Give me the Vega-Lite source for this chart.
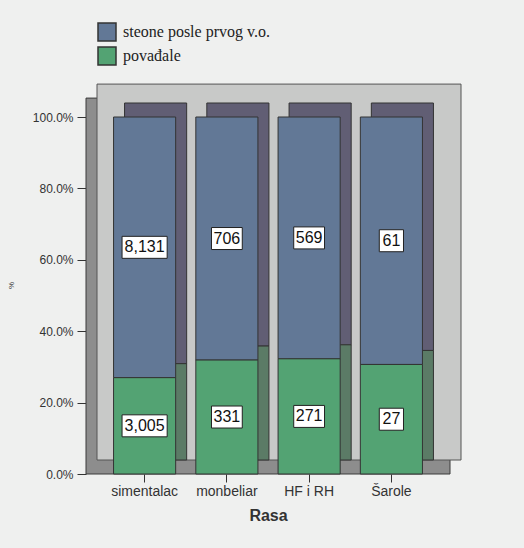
{
  "$schema": "https://vega.github.io/schema/vega-lite/v6.json",
  "autosize": "none",
  "width": 364,
  "height": 357,
  "padding": {"left": 86, "top": 117, "right": 74, "bottom": 74},
  "background": "#eff0ef",
  "config": {"view": {"stroke": null}},
  "data": {"values": [
    {"Rasa": "simentalac", "status": "steone posle prvog v.o.", "count": 8131},
    {"Rasa": "simentalac", "status": "povađale", "count": 3005},
    {"Rasa": "monbeliar", "status": "steone posle prvog v.o.", "count": 706},
    {"Rasa": "monbeliar", "status": "povađale", "count": 331},
    {"Rasa": "HF i RH", "status": "steone posle prvog v.o.", "count": 569},
    {"Rasa": "HF i RH", "status": "povađale", "count": 271},
    {"Rasa": "Šarole", "status": "steone posle prvog v.o.", "count": 61},
    {"Rasa": "Šarole", "status": "povađale", "count": 27}
  ]},
  "transform": [
    {"stack": "count", "groupby": ["Rasa"], "offset": "normalize", "sort": [{"field": "status", "order": "ascending"}], "as": ["y0", "y1"]},
    {"calculate": "(datum.y0 + datum.y1) / 2", "as": "mid"}
  ],
  "layer": [
    {
      "data": {"values": [{}]},
      "mark": {"type": "rect", "fill": "#8d8d8d", "stroke": "#3a3a3a", "strokeWidth": 1},
      "encoding": {
        "y": {"datum": 0, "type": "quantitative"},
        "y2": {"datum": 1.053}
      }
    },
    {
      "data": {"values": [{}]},
      "mark": {"type": "rect", "fill": "#c8c9c8", "stroke": "#555555", "strokeWidth": 1, "xOffset": 11, "x2Offset": 11, "yOffset": -14, "y2Offset": -14},
      "encoding": {
        "x": {"value": 0},
        "x2": {"value": "width"},
        "y": {"datum": 0, "type": "quantitative"},
        "y2": {"datum": 1.053}
      }
    },
    {
      "mark": {"type": "bar", "stroke": "#333333", "strokeWidth": 1, "xOffset": 11, "x2Offset": 11, "yOffset": -14, "y2Offset": -14},
      "encoding": {
        "x": {"field": "Rasa", "type": "nominal", "sort": ["simentalac", "monbeliar", "HF i RH", "Šarole"]},
        "y": {"field": "y0", "type": "quantitative"},
        "y2": {"field": "y1"},
        "color": {"condition": {"test": "datum.status === 'povađale'", "value": "#5b7b66"}, "value": "#615e74"}
      }
    },
    {
      "mark": {"type": "bar", "stroke": "#333333", "strokeWidth": 1},
      "encoding": {
        "x": {
          "field": "Rasa", "type": "nominal",
          "sort": ["simentalac", "monbeliar", "HF i RH", "Šarole"],
          "scale": {"paddingInner": 0.245, "paddingOuter": 0.335},
          "axis": {
            "title": "Rasa", "titleFont": "Liberation Sans", "titleFontSize": 16, "titleFontWeight": "bold", "titleColor": "#333333", "titlePadding": 9,
            "labelFont": "Liberation Sans", "labelFontSize": 14, "labelColor": "#333333", "labelAngle": 0, "labelAlign": "center", "labelPadding": 9,
            "domain": false, "tickSize": 8, "tickColor": "#333333"
          }
        },
        "y": {
          "field": "y0", "type": "quantitative",
          "scale": {"domain": [0, 1], "nice": false},
          "axis": {
            "title": "%", "titleFont": "Liberation Sans", "titleFontSize": 8, "titleFontWeight": "normal", "titleColor": "#333333", "titleX": -71, "titleY": 168,
            "format": ".1%", "values": [0, 0.2, 0.4, 0.6, 0.8, 1],
            "labelFont": "Liberation Sans", "labelFontSize": 12, "labelColor": "#333333", "labelPadding": 4,
            "domain": false, "grid": false, "tickSize": 9, "tickColor": "#333333"
          }
        },
        "y2": {"field": "y1"},
        "color": {
          "field": "status", "type": "nominal",
          "scale": {"domain": ["steone posle prvog v.o.", "povađale"], "range": ["#627896", "#53a373"]},
          "legend": {
            "title": null, "orient": "none", "legendX": 11, "legendY": -95, "padding": 0,
            "symbolType": "square", "symbolSize": 324, "symbolStrokeColor": "#333333", "symbolStrokeWidth": 1.5, "symbolOpacity": 1,
            "labelFont": "Liberation Serif", "labelFontSize": 16, "labelColor": "#222222", "labelOffset": 6, "rowPadding": 0
          }
        }
      }
    },
    {
      "mark": {"type": "point", "filled": true, "fill": "white", "stroke": "#222222", "strokeWidth": 1, "opacity": 1},
      "encoding": {
        "x": {"field": "Rasa", "type": "nominal", "sort": ["simentalac", "monbeliar", "HF i RH", "Šarole"]},
        "y": {"field": "mid", "type": "quantitative"},
        "size": {"value": 484},
        "shape": {
          "condition": [
            {"test": "datum.count >= 1000", "value": "M-2.05,-1L2.05,-1L2.05,1L-2.05,1Z"},
            {"test": "datum.count >= 100", "value": "M-1.4,-1L1.4,-1L1.4,1L-1.4,1Z"}
          ],
          "value": "M-1.1,-1L1.1,-1L1.1,1L-1.1,1Z"
        }
      }
    },
    {
      "mark": {"type": "text", "font": "Liberation Sans", "fontSize": 16, "color": "#111111", "baseline": "middle", "align": "center"},
      "encoding": {
        "x": {"field": "Rasa", "type": "nominal", "sort": ["simentalac", "monbeliar", "HF i RH", "Šarole"]},
        "y": {"field": "mid", "type": "quantitative"},
        "text": {"field": "count", "type": "quantitative", "format": ","}
      }
    }
  ]
}
